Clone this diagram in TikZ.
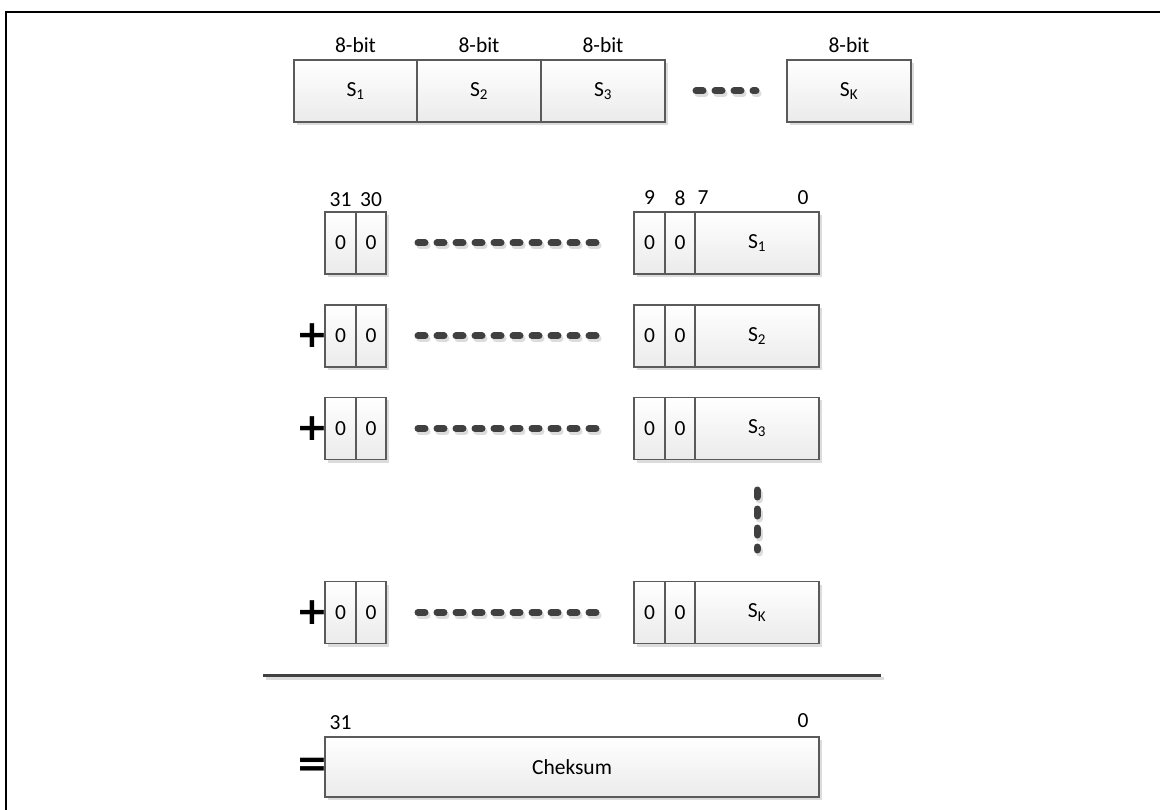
\documentclass[tikz,border=0pt]{standalone}
\usepackage{fontspec}
\setmainfont{Carlito}
\newfontfamily\symfont{DejaVu Sans}
\usetikzlibrary{shadows}
\definecolor{edgec}{HTML}{5A5A5A}
\definecolor{dotc}{HTML}{404040}
\definecolor{shadc}{HTML}{DCDCDC}
\begin{document}
\begin{tikzpicture}[x=1pt,y=-1pt,
  txt/.style={inner sep=0pt,font=\fontsize{21.5}{25}\selectfont},
  cell/.style={draw=edgec,line width=1.1pt,top color=white,bottom color=black!8,
    inner sep=0pt,minimum height=62pt,font=\fontsize{21.5}{25}\selectfont,
    drop shadow={shadow xshift=3pt,shadow yshift=-3pt,fill=shadc,opacity=1}},
  dotline/.style={line width=7pt,line cap=round,dash pattern=on 7pt off 12pt,color=dotc},
  dotshadow/.style={line width=7pt,line cap=round,dash pattern=on 7pt off 12pt,color=shadc},
  opsign/.style={inner sep=0pt,font=\symfont\bfseries\fontsize{38}{40}\selectfont}]
\useasboundingbox (0,0) rectangle (1160,810);
% frame
\draw[line width=2.5pt] (6,815) -- (6,12) -- (1165,12);

% top row
\node[cell,minimum width=123pt] (t1) at (355.5,91) {S\textsubscript{1}};
\node[cell,minimum width=124pt] (t2) at (479,91) {S\textsubscript{2}};
\node[cell,minimum width=124pt] (t3) at (603,91) {S\textsubscript{3}};
\node[cell,minimum width=124pt] (tk) at (849,91) {S\textsubscript{K}};
\node[txt] (b1) at (355.5,45) {8-bit};
\node[txt] (b2) at (479,45) {8-bit};
\node[txt] (b3) at (603,45) {8-bit};
\node[txt] (bk) at (849,45) {8-bit};
\coordinate (td1) at (696,91);
\coordinate (td2) at (756,91);
\draw[dotshadow] ([shift={(2,3)}]td1) -- ([shift={(2,3)}]td2);
\draw[dotline] (td1) -- (td2);

% rows
\foreach \y/\lab/\n in {243/1/a,336/2/b,428.5/3/c,612.5/K/d}{
  \node[cell,minimum width=31pt] (za\n) at (340.5,\y) {0};
  \node[cell,minimum width=30pt] (zb\n) at (371,\y) {0};
  \node[cell,minimum width=31pt] (zc\n) at (649.5,\y) {0};
  \node[cell,minimum width=30pt] (zd\n) at (680,\y) {0};
  \node[cell,minimum width=124pt] (s\n) at (757,\y) {S\textsubscript{\lab}};
  \coordinate (da\n) at (418,\y);
  \coordinate (db\n) at (600,\y);
  \draw[dotshadow] ([shift={(2,3)}]da\n) -- ([shift={(2,3)}]db\n);
  \draw[dotline] (da\n) -- (db\n);
}
\node[opsign] (pb) at (312,336) {+};
\node[opsign] (pc) at (312,428.5) {+};
\node[opsign] (pd) at (312,612.5) {+};

% bit labels
\node[txt] (l31) at (340.5,200) {31};
\node[txt] (l30) at (371,200) {30};
\node[txt] (l9) at (649.5,198) {9};
\node[txt] (l8) at (680,198) {8};
\node[txt] (l7) at (703,198) {7};
\node[txt] (l0) at (803,198) {0};

% vertical dots
\coordinate (v1) at (757,490);
\coordinate (v2) at (757,550);
\draw[dotshadow] ([shift={(2,3)}]v1) -- ([shift={(2,3)}]v2);
\draw[dotline] (v1) -- (v2);

% rule
\coordinate (r1) at (263,675);
\coordinate (r2) at (881,675);
\draw[line width=3pt,color=shadc] ([shift={(3,3.5)}]r1) -- ([shift={(3,3.5)}]r2);
\draw[line width=3pt,color=dotc] (r1) -- (r2);

% checksum
\node[cell,minimum width=494pt,minimum height=60pt] (cs) at (572,767) {Cheksum};
\node[txt] (c31) at (340.5,723) {31};
\node[txt] (c0) at (803,721) {0};
\node[opsign] (eq) at (312,767) {=};
\end{tikzpicture}
\end{document}
